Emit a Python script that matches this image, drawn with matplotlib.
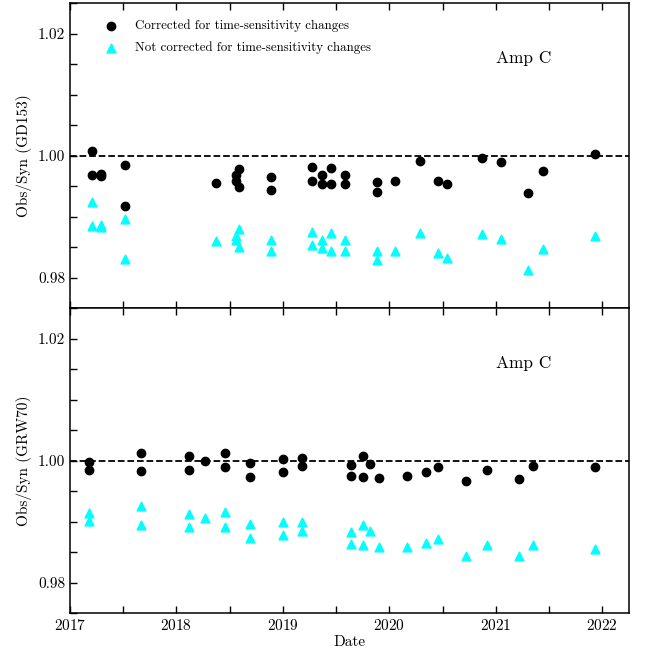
import matplotlib
matplotlib.use("Agg")
import matplotlib.pyplot as plt
from matplotlib.ticker import MultipleLocator

plt.rcParams['font.family'] = 'cmr10'
plt.rcParams['mathtext.fontset'] = 'cm'
plt.rcParams['axes.formatter.use_mathtext'] = True

# GD153 observations (decimal year) and Obs/Syn ratios
dates_gd153 = [2017.21, 2017.21, 2017.29, 2017.29, 2017.52, 2017.52, 2018.37,
               2018.56, 2018.56, 2018.59, 2018.59, 2018.89, 2018.89, 2019.27,
               2019.27, 2019.37, 2019.37, 2019.45, 2019.45, 2019.58, 2019.58,
               2019.88, 2019.88, 2020.05, 2020.29, 2020.46, 2020.54, 2020.87,
               2021.05, 2021.30, 2021.44, 2021.93]
corr_gd153 = [1.0008, 0.9968, 0.9970, 0.9967, 0.9985, 0.9917, 0.9955,
              0.9968, 0.9959, 0.9978, 0.9948, 0.9965, 0.9944, 0.9981,
              0.9959, 0.9968, 0.9954, 0.9980, 0.9953, 0.9969, 0.9954,
              0.9957, 0.9941, 0.9959, 0.9991, 0.9959, 0.9953, 0.9996,
              0.9989, 0.9939, 0.9975, 1.0003]
uncorr_gd153 = [0.9924, 0.9884, 0.9887, 0.9883, 0.9897, 0.9830, 0.9860,
                0.9869, 0.9861, 0.9879, 0.9850, 0.9862, 0.9843, 0.9875,
                0.9853, 0.9861, 0.9848, 0.9873, 0.9844, 0.9861, 0.9844,
                0.9844, 0.9829, 0.9844, 0.9874, 0.9841, 0.9833, 0.9872,
                0.9863, 0.9813, 0.9847, 0.9868]

# GRW70 observations
dates_grw70 = [2017.18, 2017.18, 2017.67, 2017.67, 2018.12, 2018.12, 2018.27,
               2018.46, 2018.46, 2018.69, 2018.69, 2019.00, 2019.00, 2019.18,
               2019.18, 2019.64, 2019.64, 2019.75, 2019.75, 2019.82, 2019.90,
               2020.17, 2020.34, 2020.46, 2020.72, 2020.92, 2021.22, 2021.35,
               2021.93]
corr_grw70 = [0.9997, 0.9984, 1.0013, 0.9983, 1.0007, 0.9985, 1.0000,
              1.0012, 0.9989, 0.9996, 0.9973, 1.0003, 0.9982, 1.0005,
              0.9991, 0.9993, 0.9974, 1.0007, 0.9973, 0.9995, 0.9971,
              0.9975, 0.9982, 0.9989, 0.9966, 0.9985, 0.9969, 0.9991,
              0.9990]
uncorr_grw70 = [0.9914, 0.9901, 0.9925, 0.9894, 0.9913, 0.9891, 0.9906,
                0.9915, 0.9891, 0.9896, 0.9873, 0.9900, 0.9878, 0.9900,
                0.9885, 0.9883, 0.9864, 0.9895, 0.9861, 0.9884, 0.9858,
                0.9859, 0.9865, 0.9871, 0.9844, 0.9862, 0.9843, 0.9862,
                0.9855]

fig, axes = plt.subplots(2, 1, figsize=(6.45, 6.56), dpi=100, sharex=True)
fig.subplots_adjust(left=0.1085, right=0.975, top=0.995, bottom=0.0655, hspace=0)

panels = [
    (axes[0], dates_gd153, corr_gd153, uncorr_gd153, 'Obs/Syn (GD153)'),
    (axes[1], dates_grw70, corr_grw70, uncorr_grw70, 'Obs/Syn (GRW70)'),
]

for ax, dates, corr, uncorr, ylabel in panels:
    ax.scatter(dates, corr, marker='o', s=36, color='black', zorder=3,
               label='Corrected for time-sensitivity changes')
    ax.scatter(dates, uncorr, marker='^', s=40, color='cyan', zorder=3,
               label='Not corrected for time-sensitivity changes')
    ax.axhline(1.0, color='black', ls='--', lw=1.3, zorder=2)
    ax.text(0.812, 0.82, 'Amp C', transform=ax.transAxes, fontsize=12.5,
            ha='center', va='center')

    ax.set_xlim(2017, 2022.25)
    ax.set_ylim(0.975, 1.025)
    ax.xaxis.set_major_locator(MultipleLocator(1))
    ax.xaxis.set_minor_locator(MultipleLocator(0.5))
    ax.yaxis.set_major_locator(MultipleLocator(0.02))
    ax.yaxis.set_minor_locator(MultipleLocator(0.005))
    ax.yaxis.set_major_formatter(plt.FormatStrFormatter('%.2f'))
    ax.tick_params(which='both', direction='in', top=True, right=False,
                   length=5, width=1, labelsize=11)
    for sp in ax.spines.values():
        sp.set_linewidth(1.1)
    ax.set_ylabel(ylabel, fontsize=11)

axes[0].legend(loc='upper left', bbox_to_anchor=(0.03, 0.985), frameon=False,
               fontsize=9.3, handletextpad=0.8, labelspacing=0.75)
axes[1].set_xlabel('Date', fontsize=11, labelpad=2)

plt.savefig('out.png', dpi=100)
